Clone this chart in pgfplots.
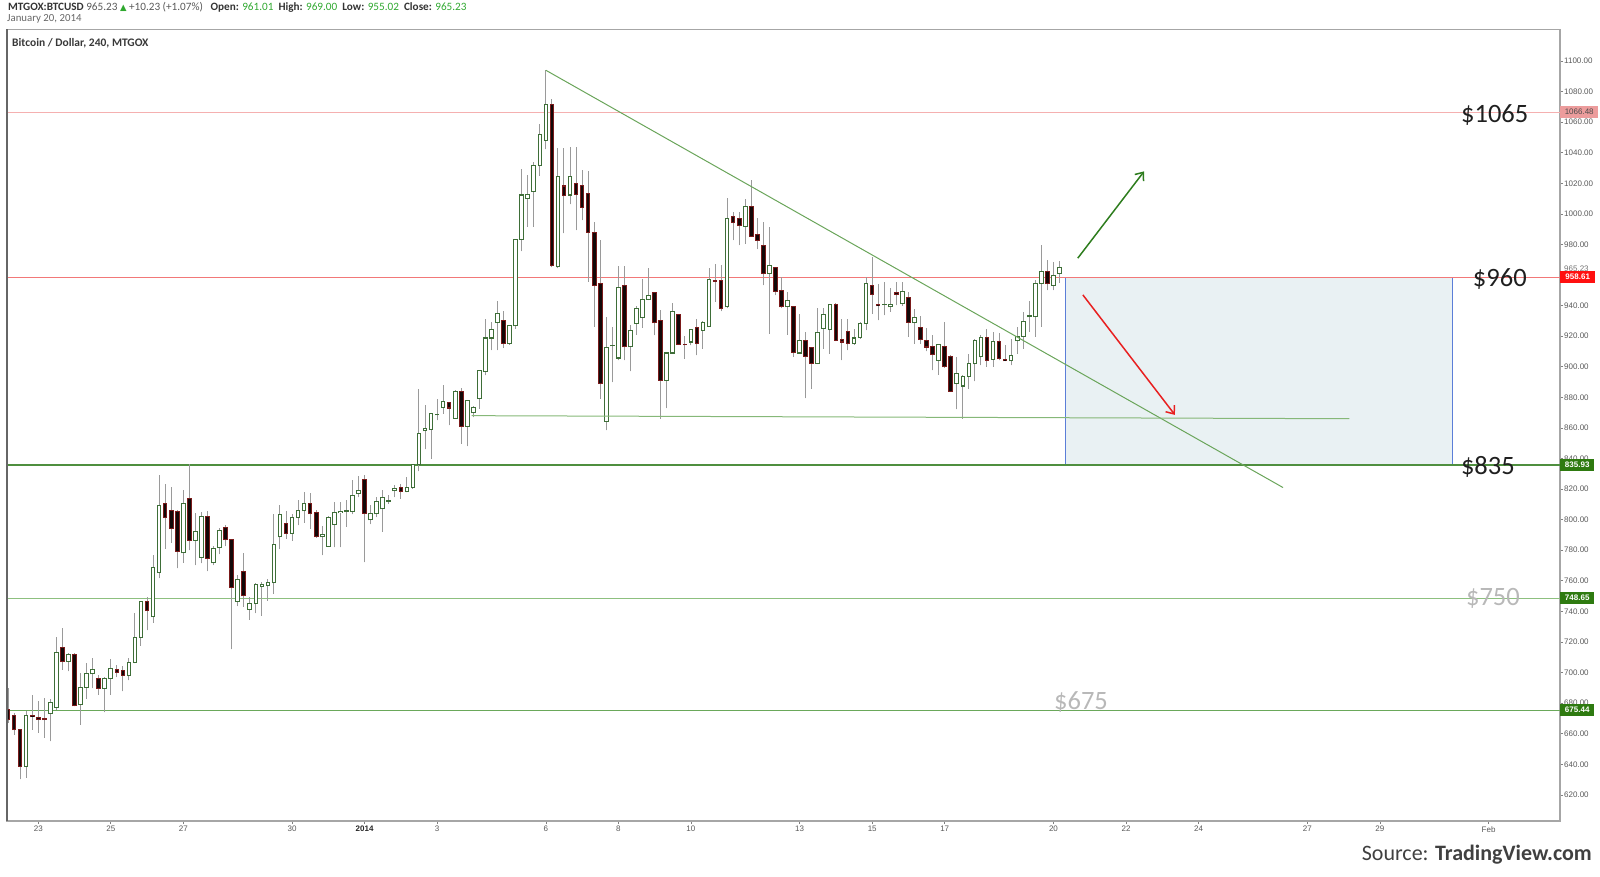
\documentclass[border=0pt]{standalone}
\usepackage{pgfplots}
\pgfplotsset{compat=1.18}
\usepackage{pgfplotstable}
\usepackage{fontspec}
\setmainfont{Carlito}
\newfontfamily\axisfont{Liberation Sans}
\newfontfamily\symfont{DejaVu Sans}
\usetikzlibrary{arrows.meta}

\definecolor{bullline}{HTML}{3E6E38}
\definecolor{bearline}{HTML}{7A1A1A}
\definecolor{bearfill}{HTML}{120808}
\definecolor{wick}{HTML}{9A9A9A}
\definecolor{lpink}{HTML}{F5B0B0}
\definecolor{redline}{HTML}{F27878}
\definecolor{dgreen}{HTML}{4F8F3F}
\definecolor{mgreen}{HTML}{8DC07F}
\definecolor{g675}{HTML}{6AA85A}
\definecolor{tgreen}{HTML}{6AA55A}
\definecolor{sgreen}{HTML}{86B878}
\definecolor{boxfill}{HTML}{E9F1F3}
\definecolor{boxblue}{HTML}{5B7ED8}
\definecolor{arrgreen}{HTML}{2E7D1E}
\definecolor{arrred}{HTML}{E82020}
\definecolor{pinkbox}{HTML}{EC9C9C}
\definecolor{redbox}{HTML}{FF1010}
\definecolor{greenbox}{HTML}{2E7A10}
\definecolor{upgreen}{HTML}{2FA82F}

% bullish candles: i = 4-hour candle index, o h l c
\pgfplotstableread{
i o h l c
4 638.8 674.6 631.1 672.2
8 673.5 682.7 655.0 680.5
9 677.2 723.5 675.7 713.1
11 707.2 713.1 700.7 711.6
13 679.0 699.6 665.9 690.5
14 690.5 706.1 682.7 699.2
15 699.2 709.4 689.8 702.2
17 689.8 697.0 674.0 696.1
18 696.1 708.8 685.5 702.9
21 698.3 709.4 694.8 706.6
22 706.6 739.2 706.0 723.1
23 723.1 746.5 717.5 746.4
25 736.6 776.8 732.7 768.8
26 765.3 829.4 761.6 809.4
30 778.3 819.6 771.8 810.5
32 786.6 804.4 770.3 792.0
33 775.3 805.0 771.4 801.8
35 771.8 782.7 770.3 781.1
36 781.8 794.8 777.5 792.7
39 746.4 763.8 743.5 760.9
41 741.4 749.6 734.4 745.3
42 745.3 758.3 738.8 757.7
43 756.2 759.4 737.0 757.7
44 757.2 760.9 746.8 758.8
45 758.8 803.5 751.4 784.0
46 788.8 809.4 780.5 803.5
48 791.0 804.0 786.1 801.4
49 801.4 812.7 796.4 805.7
50 805.7 818.1 797.9 810.5
53 788.8 795.7 776.8 790.3
54 782.7 802.2 782.2 801.4
55 796.8 811.6 781.8 804.4
56 804.4 811.6 781.8 805.5
57 805.5 813.1 795.3 805.7
58 805.5 826.1 803.5 815.9
59 817.0 828.3 814.8 818.8
61 799.8 809.7 797.0 804.2
62 803.8 814.7 801.6 811.9
63 807.0 819.1 792.2 814.7
64 812.0 816.2 810.3 812.2
65 818.8 822.8 814.7 820.6
67 818.4 827.8 818.0 821.3
68 821.3 836.5 820.1 835.9
69 835.9 885.7 831.5 856.2
70 858.0 875.2 845.9 859.5
71 859.0 869.5 839.8 869.3
72 868.6 879.1 865.0 868.7
73 873.6 887.8 869.3 877.4
75 866.4 884.5 866.0 883.9
77 861.2 878.2 848.1 878.0
78 869.9 874.0 867.1 873.6
79 879.1 898.0 872.6 897.7
80 897.0 931.5 894.4 918.8
81 918.8 929.3 910.8 924.5
82 928.9 942.9 910.8 934.8
84 915.1 927.0 914.5 926.7
85 926.7 983.6 925.0 983.5
86 983.5 1029.3 975.6 1012.3
87 1010.0 1025.4 991.6 1012.9
88 1014.5 1034.1 991.6 1031.5
89 1031.5 1058.6 1025.0 1051.6
90 1048.0 1094.2 1042.2 1071.7
92 965.4 1043.3 964.3 1024.3
94 1012.3 1044.0 1006.2 1024.3
100 864.3 932.6 858.4 912.3
101 913.6 926.0 890.0 913.9
102 905.7 966.0 904.2 951.8
104 913.0 927.6 897.0 923.4
105 928.2 939.8 921.0 938.1
106 932.2 957.3 925.4 944.0
107 944.2 964.3 943.5 946.4
110 891.1 909.7 873.0 909.0
111 909.0 942.0 909.0 935.9
114 916.2 925.0 914.0 924.3
116 923.9 929.8 911.9 928.7
117 926.5 964.3 926.5 957.1
120 939.2 1010.6 938.1 997.0
123 992.0 1009.7 980.6 1004.7
127 961.0 991.6 921.7 966.0
130 939.2 949.0 921.0 943.1
132 909.0 934.8 908.6 916.9
135 902.0 938.1 902.0 922.3
136 925.0 938.1 911.9 934.1
137 924.3 941.3 908.6 940.7
141 915.1 925.0 914.5 918.8
142 919.1 929.3 918.4 928.2
143 928.2 958.8 923.9 954.4
146 940.7 955.5 933.7 940.9
147 939.2 951.2 935.9 940.7
149 941.3 955.1 939.8 949.0
151 928.9 937.6 915.1 932.2
155 904.2 915.1 894.8 914.5
158 888.9 906.4 872.1 895.5
159 887.4 894.4 866.0 893.7
160 893.9 908.6 885.7 902.0
161 902.0 918.0 890.5 916.9
162 906.4 921.0 900.9 919.1
164 904.9 922.8 899.9 916.7
167 903.8 918.0 900.9 907.1
168 916.9 926.1 908.6 919.9
169 919.9 935.9 911.9 929.3
170 932.6 942.9 922.8 933.3
171 932.6 956.6 919.5 954.4
172 954.4 979.5 926.0 962.5
174 953.3 968.6 950.1 959.9
175 961.0 969.0 955.0 965.2
}\bull

% bearish candles
\pgfplotstableread{
i o h l c
1 676.1 689.8 667.0 669.2
2 672.2 673.5 659.4 662.7
3 662.7 663.0 630.1 638.8
5 672.0 685.5 662.7 671.0
6 670.7 681.1 660.5 669.6
7 669.6 683.3 657.2 669.2
10 716.6 729.4 701.8 707.2
12 711.6 713.0 677.9 678.3
16 696.4 698.5 685.5 689.8
19 702.2 705.0 697.0 700.1
20 701.4 704.4 687.7 698.3
24 746.4 749.6 727.5 740.5
27 810.5 823.5 781.1 801.4
28 806.1 821.4 784.8 794.2
29 805.5 806.0 768.1 779.4
31 813.8 836.6 780.1 786.6
34 802.2 805.5 766.4 774.6
37 794.8 796.4 782.7 787.0
38 787.0 787.5 715.3 755.7
40 765.9 778.3 743.1 750.1
47 797.4 805.7 787.5 791.0
51 810.5 817.5 794.2 804.0
52 804.4 806.1 788.3 788.8
60 826.1 829.3 772.0 804.2
66 820.8 823.4 813.6 818.4
74 876.9 877.0 861.6 873.0
76 883.9 886.1 849.6 861.2
83 930.0 936.3 912.3 915.1
91 1071.7 1075.0 965.0 966.0
93 1018.2 1043.3 987.2 1011.9
95 1020.0 1044.0 989.4 1012.7
96 1018.8 1028.7 995.9 1004.2
97 1013.4 1028.0 955.5 987.8
98 987.8 994.8 926.0 953.3
99 954.4 982.8 879.1 889.0
103 953.3 966.0 904.2 913.0
108 948.3 949.0 920.6 928.7
109 930.0 937.0 866.0 891.1
112 934.1 934.1 914.5 914.7
113 914.5 920.0 905.3 914.3
115 925.8 931.5 907.5 915.1
118 956.6 966.9 942.4 956.0
119 956.6 966.4 936.3 938.1
121 998.1 1001.4 982.8 994.2
122 997.0 1001.4 979.5 992.2
124 1004.7 1022.1 985.0 985.4
125 986.5 997.0 976.9 982.8
126 979.1 994.8 953.3 961.0
128 964.7 964.7 946.8 949.4
129 950.1 958.8 938.1 939.2
131 939.2 939.2 906.4 909.2
133 916.9 922.8 879.5 906.8
134 912.3 912.3 885.7 902.0
138 940.7 942.0 916.7 917.3
139 918.0 931.5 904.2 916.2
140 922.8 931.5 910.8 915.1
144 953.3 971.9 934.8 947.5
145 940.7 954.4 930.4 939.8
148 948.3 955.1 940.2 947.2
150 945.3 949.0 919.5 928.9
152 925.4 933.3 915.1 917.8
153 917.3 925.4 910.1 912.9
154 913.4 920.6 897.7 907.9
156 913.4 929.3 899.5 899.9
157 906.4 907.5 883.5 883.9
163 919.1 924.5 899.9 904.2
165 916.7 922.3 904.2 905.3
166 904.9 914.0 903.6 903.8
173 962.5 969.7 950.1 954.4
}\bear

\pgfplotsset{
  candle/.style={only marks, mark size=0pt, mark options={draw=none, fill=none},
    error bars/.cd, y dir=plus, y explicit, error mark=none},
}

\begin{document}
\begin{tikzpicture}
\path[use as bounding box] (0,0) rectangle (1600pt,876pt);
\begin{axis}[
  at={(7pt,55pt)}, anchor=south west,
  scale only axis, width=1553pt, height=791.7pt,
  xmin=0.138, xmax=42.97, ymin=602.9, ymax=1120.7,
  clip=false,
  axis line style={draw=black!35, line width=1.2pt},
  tick style={draw=black!50, line width=0.6pt},
  tick align=outside,
  major tick length=3pt,
  xtick pos=bottom, ytick pos=right, yticklabel pos=right,
  scaled y ticks=false,
  ytick={620,640,...,1100},
  yticklabel style={font=\axisfont\fontsize{8}{9}\selectfont, text=black!65, inner sep=1pt,
    /pgf/number format/fixed, /pgf/number format/fixed zerofill,
    /pgf/number format/precision=2, /pgf/number format/1000 sep={},
    /pgf/number format/assume math mode=true},
  xtick={1,3,5,8,10,12,15,17,19,22,24,26,29,31,33,36,38,41},
  xticklabels={23,25,27,30,\textbf{\color{black!85}2014},3,6,8,10,13,15,17,20,22,24,27,29,Feb},
  xticklabel style={font=\axisfont\fontsize{8}{9}\selectfont, text=black!65, inner sep=2pt},
]
% target box
\draw[fill=boxfill, draw=boxblue, line width=1pt] (axis cs:29.32,835.93) rectangle (axis cs:40.0,958.61);
% horizontal levels
\addplot[draw=lpink, line width=1pt] coordinates {(0.138,1066.48) (42.97,1066.48)};
\addplot[draw=redline, line width=1pt] coordinates {(0.138,958.61) (42.97,958.61)};
\addplot[draw=dgreen, line width=2pt] coordinates {(0.138,835.93) (42.97,835.93)};
\addplot[draw=mgreen, line width=1pt] coordinates {(0.138,748.65) (42.97,748.65)};
\addplot[draw=g675, line width=0.9pt] coordinates {(0.138,675.44) (42.97,675.44)};
% wicks
\addplot[candle, error bar style={draw=wick, line width=1pt}]
  table[x expr=\thisrow{i}/6, y=l, y error plus expr=\thisrow{h}-\thisrow{l}] {\bull};
\addplot[candle, error bar style={draw=wick, line width=1pt}]
  table[x expr=\thisrow{i}/6, y=l, y error plus expr=\thisrow{h}-\thisrow{l}] {\bear};
% bull bodies
\addplot[candle, error bar style={draw=bullline, line width=4.6pt}]
  table[x expr=\thisrow{i}/6, y expr=\thisrow{o}-0.35, y error plus expr=\thisrow{c}-\thisrow{o}+0.7] {\bull};
\addplot[candle, error bar style={draw=white, line width=2.6pt}]
  table[x expr=\thisrow{i}/6, y expr=\thisrow{o}+0.35, y error plus expr={max(\thisrow{c}-\thisrow{o}-0.7,0)}] {\bull};
% bear bodies
\addplot[candle, error bar style={draw=bearline, line width=4.6pt}]
  table[x expr=\thisrow{i}/6, y expr=\thisrow{c}-0.35, y error plus expr=\thisrow{o}-\thisrow{c}+0.7] {\bear};
\addplot[candle, error bar style={draw=bearfill, line width=2.6pt}]
  table[x expr=\thisrow{i}/6, y expr=\thisrow{c}+0.35, y error plus expr={max(\thisrow{o}-\thisrow{c}-0.7,0)}] {\bear};
% trend and support lines
\addplot[draw=tgreen, line width=1pt] coordinates {(15.0,1093.9) (35.33,821.0)};
\addplot[draw=sgreen, line width=1pt] coordinates {(12.95,868.0) (37.16,866.0)};
% arrows
\draw[arrgreen, line width=1.5pt, -{Straight Barb[length=7pt,width=11pt]}] (axis cs:29.67,971.0) -- (axis cs:31.5,1027.8);
\draw[arrred, line width=1.5pt, -{Straight Barb[length=7pt,width=11pt]}] (axis cs:29.81,947.0) -- (axis cs:32.35,868.5);
% left border darker
\draw[black!60, line width=1.2pt] (rel axis cs:0,0) -- (rel axis cs:0,1);
% level annotations
\node[font=\fontsize{26.5}{28}\selectfont, text=black!88] at (axis cs:41.17,1064.7) {\$1065};
\node[font=\fontsize{26.5}{28}\selectfont, text=black!88] at (axis cs:41.31,957.6) {\$960};
\node[font=\fontsize{26.5}{28}\selectfont, text=black!88] at (axis cs:40.98,834.7) {\$835};
\node[font=\fontsize{26.5}{28}\selectfont, text=black!28] at (axis cs:41.12,748.6) {\$750};
\node[font=\fontsize{26.5}{28}\selectfont, text=black!28] at (axis cs:29.76,680.8) {\$675};
\coordinate (L1) at (axis cs:42.97,1066.48);
\coordinate (L2) at (axis cs:42.97,958.61);
\coordinate (L3) at (axis cs:42.97,835.93);
\coordinate (L4) at (axis cs:42.97,748.65);
\coordinate (L5) at (axis cs:42.97,675.44);
\end{axis}
% price tags on the right
\tikzset{tag/.style={anchor=west, inner xsep=0pt, inner ysep=2.6pt, text height=6pt, text depth=0.4pt,
  font=\axisfont\bfseries\fontsize{8}{9}\selectfont}}
\node[tag, fill=pinkbox, text=black!70, minimum width=38pt, font=\axisfont\fontsize{8}{9}\selectfont] at (L1) {1066.48};
\node[tag, fill=redbox, text=white, minimum width=35pt] at (L2) {958.61};
\node[tag, fill=greenbox, text=white, minimum width=34pt] at (L3) {835.93};
\node[tag, fill=greenbox, text=white, minimum width=34pt] at (L4) {748.65};
\node[tag, fill=greenbox, text=white, minimum width=34pt] at (L5) {675.44};
\node[anchor=south west, inner sep=0pt, font=\axisfont\fontsize{8}{9}\selectfont, text=black!55] at ([xshift=4pt,yshift=5.5pt]L2) {965.23};
% header
\node[anchor=north west, inner sep=0pt, font=\fontsize{11.2}{13}\selectfont, text=black!65] at (8pt,874pt)
  {\textbf{\color{black!80}MTGOX:BTCUSD} 965.23 {\symfont\fontsize{8.5}{9}\selectfont\color{upgreen}▲} +10.23 (+1.07\%)\ \ \ \textbf{\color{black!80}Open:} \textcolor{upgreen}{961.01}\ \ \textbf{\color{black!80}High:} \textcolor{upgreen}{969.00}\ \ \textbf{\color{black!80}Low:} \textcolor{upgreen}{955.02}\ \ \textbf{\color{black!80}Close:} \textcolor{upgreen}{965.23}};
\node[anchor=north west, inner sep=0pt, font=\fontsize{10.8}{12}\selectfont, text=black!60] at (7pt,862pt) {January 20, 2014};
\node[anchor=west, inner sep=0pt, font=\bfseries\fontsize{11.5}{13}\selectfont, text=black!78] at (12pt,833pt) {Bitcoin / Dollar, 240, MTGOX};
% source
\node[anchor=east, inner sep=0pt, font=\fontsize{22}{24}\selectfont, text=black!75] at (1592pt,21pt) {Source: \textbf{TradingView.com}};
\end{tikzpicture}
\end{document}
